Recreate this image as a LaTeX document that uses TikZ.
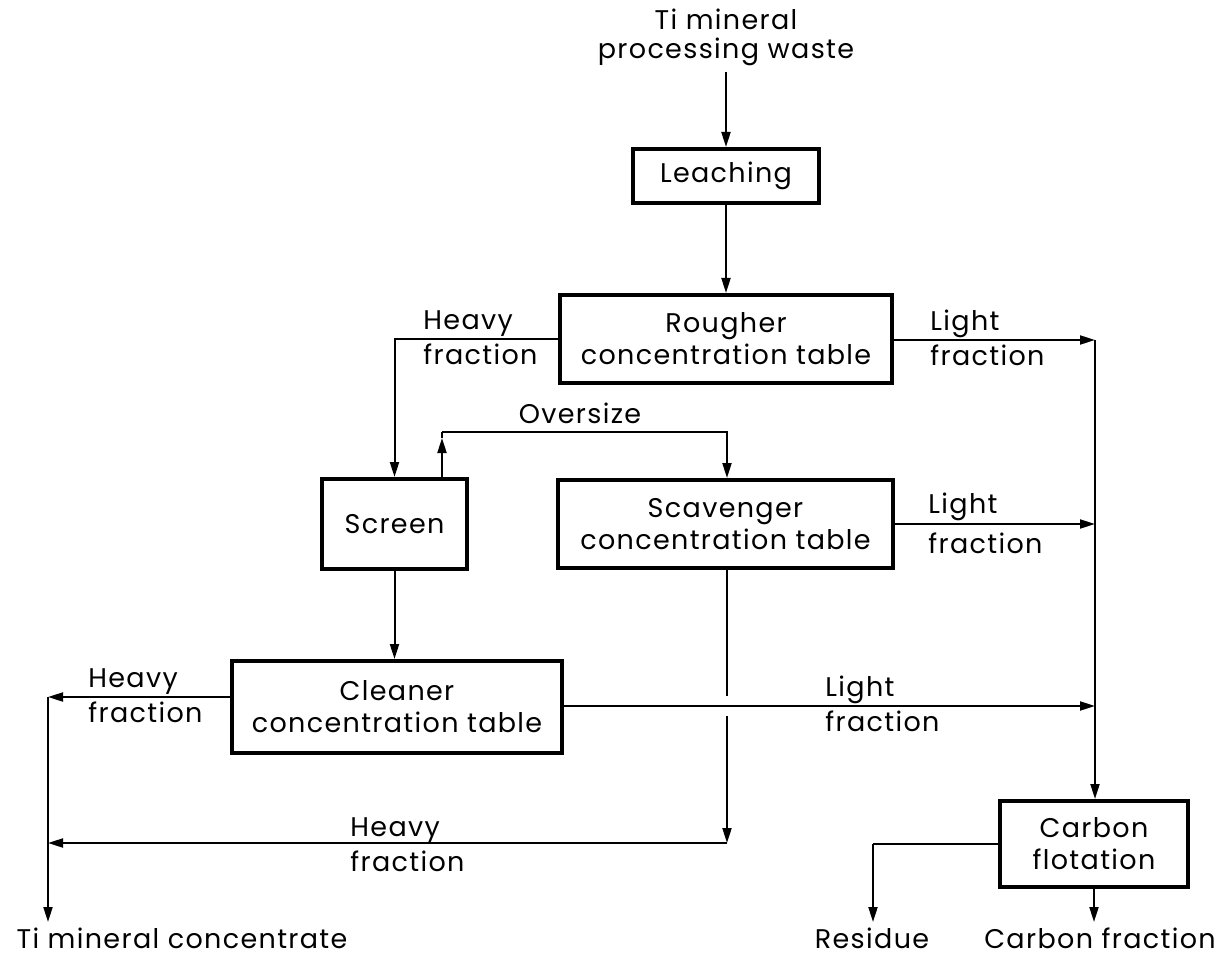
\documentclass[tikz,border=0pt]{standalone}
\usepackage{fontspec}
\setmainfont[LetterSpace=5]{Poppins}
\usetikzlibrary{arrows.meta}
\begin{document}
\begin{tikzpicture}[x=0.5pt,y=-0.5pt,
  box/.style={draw, line width=2pt, inner sep=0pt, align=center, font=\fontsize{13.5}{16}\selectfont},
  lbl/.style={align=left, inner sep=0pt, anchor=west, font=\fontsize{13.5}{17.5}\selectfont},
  ln/.style={line width=1pt},
  arr/.style={line width=1pt, -{Triangle[length=7.5pt,width=4.5pt]}},
  txt/.style={inner sep=0pt, align=center, font=\fontsize{13.5}{14.5}\selectfont}]
\useasboundingbox (0,0) rectangle (1232,957);

% boxes
\node[box, minimum width=93pt, minimum height=27pt] (leach) at (726,176) {Leaching};
\node[box, minimum width=166pt, minimum height=44pt] (rough) at (726,339) {Rougher\\concentration table};
\node[box, minimum width=72.5pt, minimum height=45pt] (screen) at (394.5,524) {Screen};
\node[box, minimum width=167.5pt, minimum height=44pt] (scav) at (725.5,524) {Scavenger\\concentration table};
\node[box, minimum width=165pt, minimum height=46pt] (clean) at (397,707) {Cleaner\\concentration table};
\node[box, minimum width=94pt, minimum height=43pt] (carb) at (1094,844) {Carbon\\flotation};

% texts
\node[txt] (title) at (726,37) {Ti mineral\\processing waste};
\node[txt] (ticon) at (182,938) {Ti mineral concentrate};
\node[txt] (resid) at (872,938) {Residue};
\node[txt] (cfrac) at (1100,938) {Carbon fraction};

% labels
\node[lbl] (lrh) at (423,338) {Heavy\\fraction};
\node[lbl] (lrl) at (930,338) {Light\\fraction};
\node[txt] (lov) at (580,413) {Oversize};
\node[lbl, font=\fontsize{13.5}{20}\selectfont] (lsl) at (928,523) {Light\\fraction};
\node[lbl] (lch) at (88,696) {Heavy\\fraction};
\node[lbl] (lcl) at (825,704) {Light\\fraction};
\node[lbl] (lsh) at (350,845) {Heavy\\fraction};

% coordinates
\coordinate (rj) at (1095,340);
\coordinate (sj) at (1095,524);
\coordinate (cj) at (1095,706);
\coordinate (oa) at (442,438);
\coordinate (ou) at (442,432);
\coordinate (sx) at (727,706);
\coordinate (hc) at (727,843);
\coordinate (lh) at (48,843);
\coordinate (lt) at (48,697);
\coordinate (lb) at (48,922);
\coordinate (rc) at (873,844);
\coordinate (rb) at (873,922);
\coordinate (cb) at (1094,922);

% connectors
\draw[arr] ([yshift=-3pt]title.south) -- (leach.north);
\draw[arr] (leach.south) -- (rough.north);
\draw[arr] (rough.west) -| (screen.north);
\draw[arr] (rough.east |- rj) -- (rj);
\draw[arr] (rj) -- (carb.north -| rj);
\draw[arr] (scav.east |- sj) -- (sj);
\draw[arr] (screen.north -| oa) -- (oa);
\draw[ln] (oa) -- (ou);
\draw[arr] (ou) -| (scav.north -| sx);
\draw[arr] (screen.south) -- (clean.north -| screen.south);
\draw[arr] (clean.east |- cj) -- (cj);
\draw[ln] (scav.south -| sx) -- ([yshift=5pt]sx);
\draw[arr] ([yshift=-5pt]sx) -- (hc);
\draw[arr] (hc) -- (lh);
\draw[arr] (clean.west |- lt) -- (lt);
\draw[arr] (lt) -- (lb);
\draw[ln] (carb.west) -- (rc);
\draw[arr] (rc) -- (rb);
\draw[arr] (carb.south) -- (cb);
\end{tikzpicture}
\end{document}
